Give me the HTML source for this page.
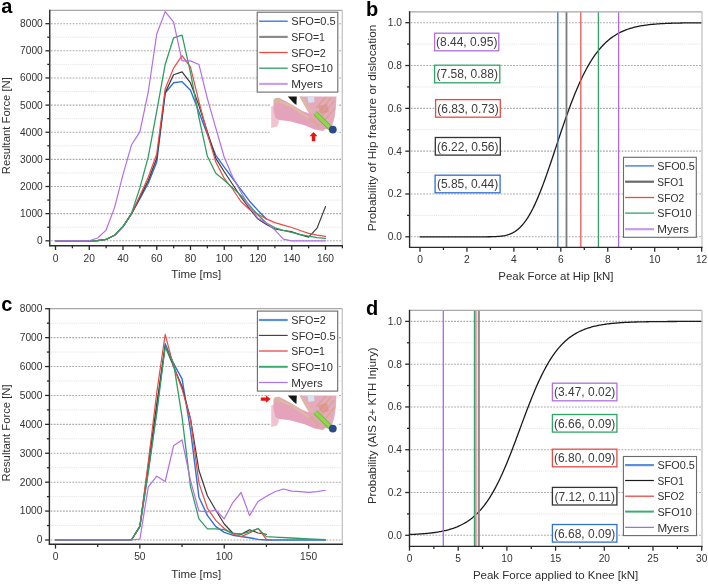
<!DOCTYPE html>
<html><head><meta charset="utf-8"><style>
html,body{margin:0;padding:0;background:#fff;width:708px;height:584px;overflow:hidden;}
svg{display:block;font-family:"Liberation Sans", sans-serif;will-change:transform;}
</style></head><body>
<svg width="708" height="584" viewBox="0 0 708 584" font-family='"Liberation Sans", sans-serif'>
<rect width="708" height="584" fill="#ffffff"/>
<line x1="50.95" y1="240.8" x2="341.3" y2="240.8" stroke="#a9a9a9" stroke-width="1.1" stroke-dasharray="1.8 1.3"/>
<line x1="50.95" y1="227.23" x2="341.3" y2="227.23" stroke="#e5e5e5" stroke-width="1.0" stroke-dasharray="1.2 0.9"/>
<line x1="50.95" y1="213.66" x2="341.3" y2="213.66" stroke="#a9a9a9" stroke-width="1.1" stroke-dasharray="1.8 1.3"/>
<line x1="50.95" y1="200.09" x2="341.3" y2="200.09" stroke="#e5e5e5" stroke-width="1.0" stroke-dasharray="1.2 0.9"/>
<line x1="50.95" y1="186.52" x2="341.3" y2="186.52" stroke="#a9a9a9" stroke-width="1.1" stroke-dasharray="1.8 1.3"/>
<line x1="50.95" y1="172.95" x2="341.3" y2="172.95" stroke="#e5e5e5" stroke-width="1.0" stroke-dasharray="1.2 0.9"/>
<line x1="50.95" y1="159.38" x2="341.3" y2="159.38" stroke="#a9a9a9" stroke-width="1.1" stroke-dasharray="1.8 1.3"/>
<line x1="50.95" y1="145.81" x2="341.3" y2="145.81" stroke="#e5e5e5" stroke-width="1.0" stroke-dasharray="1.2 0.9"/>
<line x1="50.95" y1="132.24" x2="341.3" y2="132.24" stroke="#a9a9a9" stroke-width="1.1" stroke-dasharray="1.8 1.3"/>
<line x1="50.95" y1="118.67" x2="341.3" y2="118.67" stroke="#e5e5e5" stroke-width="1.0" stroke-dasharray="1.2 0.9"/>
<line x1="50.95" y1="105.1" x2="341.3" y2="105.1" stroke="#a9a9a9" stroke-width="1.1" stroke-dasharray="1.8 1.3"/>
<line x1="50.95" y1="91.53" x2="341.3" y2="91.53" stroke="#e5e5e5" stroke-width="1.0" stroke-dasharray="1.2 0.9"/>
<line x1="50.95" y1="77.96" x2="341.3" y2="77.96" stroke="#a9a9a9" stroke-width="1.1" stroke-dasharray="1.8 1.3"/>
<line x1="50.95" y1="64.39" x2="341.3" y2="64.39" stroke="#e5e5e5" stroke-width="1.0" stroke-dasharray="1.2 0.9"/>
<line x1="50.95" y1="50.82" x2="341.3" y2="50.82" stroke="#a9a9a9" stroke-width="1.1" stroke-dasharray="1.8 1.3"/>
<line x1="50.95" y1="37.25" x2="341.3" y2="37.25" stroke="#e5e5e5" stroke-width="1.0" stroke-dasharray="1.2 0.9"/>
<line x1="50.95" y1="23.68" x2="341.3" y2="23.68" stroke="#a9a9a9" stroke-width="1.1" stroke-dasharray="1.8 1.3"/>
<polyline points="55.5,240.8 89.25,240.8 97.69,240.53 106.12,239.44 114.56,235.24 123,226.55 131.44,213.93 139.88,198.73 148.31,183.26 156.75,162.09 165.19,93.02 173.62,82.76 182.06,81.65 190.5,90.17 198.94,111.89 207.38,134.41 215.81,155.31 224.25,167.14 232.69,178.49 241.12,189.83 249.56,201.18 258,210.4 266.44,218.9" fill="none" stroke="#2f6fd6" stroke-width="1.35" stroke-linejoin="round" stroke-linecap="round" />
<polyline points="55.5,240.8 89.25,240.8 97.69,240.53 106.12,239.44 114.56,235.24 123,226.55 131.44,213.93 139.88,197.38 148.31,180.55 156.75,158.29 165.19,92.62 173.62,74.76 182.06,71.85 190.5,82.95 198.94,105.56 207.38,131.7 215.81,158.43 224.25,171.7 232.69,184.48 241.12,197.24 249.56,208.77 258,219.09 266.44,224.52 274.88,228.99 283.31,230.49 291.75,231.71 300.19,234.56 308.62,237.19 317.06,228.1 325.5,206.6" fill="none" stroke="#3a3a3a" stroke-width="1.2" stroke-linejoin="round" stroke-linecap="round" />
<polyline points="55.5,240.8 89.25,240.8 97.69,240.53 106.12,239.44 114.56,235.24 123,226.55 131.44,213.93 139.88,195.75 148.31,177.02 156.75,153.95 165.19,88.82 173.62,68.05 182.06,55.57 190.5,67.08 198.94,101.57 207.38,133.6 215.81,162.09 224.25,178.38 232.69,189.23 241.12,201.72 249.56,209.59 258,214.2 266.44,218.9 274.88,222.62 283.31,225.06 291.75,227.5 300.19,230.49 308.62,233.34 317.06,235.1 325.5,236.29" fill="none" stroke="#ea4a44" stroke-width="1.2" stroke-linejoin="round" stroke-linecap="round" />
<polyline points="55.5,240.8 89.25,240.8 97.69,240.53 106.12,239.44 114.56,235.24 123,226.55 131.44,213.66 139.88,187.88 148.31,156.67 156.75,111.07 165.19,64.47 173.62,37.77 182.06,35.16 190.5,72.53 198.94,117.58 207.38,156.31 215.81,173.33 224.25,180.28 232.69,187.88 241.12,195.75 249.56,205.52 258,215.02 266.44,223 274.88,227.77 283.31,230.49 291.75,232.39 300.19,234.56 308.62,236.19 317.06,237.54 325.5,238.41" fill="none" stroke="#2f9e62" stroke-width="1.3" stroke-linejoin="round" stroke-linecap="round" />
<polyline points="55.5,240.8 89.25,240.8 97.69,237.95 106.12,230.08 114.56,207.61 123,174.58 131.44,145.05 139.88,131.83 148.31,91.53 156.75,33.99 165.19,11.6 173.62,22.05 182.06,60.86 190.5,60.86 198.94,64.47 207.38,98.59 215.81,128.17 224.25,157.21 232.69,177.02 241.12,192.49 249.56,206.88 258,218.27 266.44,222.89 274.88,229.94 283.31,239.17 291.75,240.8 325.5,240.8" fill="none" stroke="#b46ee6" stroke-width="1.2" stroke-linejoin="round" stroke-linecap="round" />
<line x1="49.75" y1="10.3" x2="342.3" y2="10.3" stroke="#a8a8a8" stroke-width="1.3" />
<line x1="342.3" y1="10.3" x2="342.3" y2="245.7" stroke="#c4c4c4" stroke-width="1.3" />
<line x1="49.75" y1="9.7" x2="49.75" y2="246.3" stroke="#2a2a2a" stroke-width="1.4" />
<line x1="49.15" y1="245.7" x2="342.9" y2="245.7" stroke="#2a2a2a" stroke-width="1.4" />
<line x1="45.45" y1="240.8" x2="49.75" y2="240.8" stroke="#2a2a2a" stroke-width="1.3" />
<text x="42.75" y="244.2" font-size="10.2" text-anchor="end" fill="#333333" font-weight="normal" >0</text>
<line x1="47.25" y1="227.23" x2="49.75" y2="227.23" stroke="#2a2a2a" stroke-width="1.3" />
<line x1="45.45" y1="213.66" x2="49.75" y2="213.66" stroke="#2a2a2a" stroke-width="1.3" />
<text x="42.75" y="217.06" font-size="10.2" text-anchor="end" fill="#333333" font-weight="normal" >1000</text>
<line x1="47.25" y1="200.09" x2="49.75" y2="200.09" stroke="#2a2a2a" stroke-width="1.3" />
<line x1="45.45" y1="186.52" x2="49.75" y2="186.52" stroke="#2a2a2a" stroke-width="1.3" />
<text x="42.75" y="189.92" font-size="10.2" text-anchor="end" fill="#333333" font-weight="normal" >2000</text>
<line x1="47.25" y1="172.95" x2="49.75" y2="172.95" stroke="#2a2a2a" stroke-width="1.3" />
<line x1="45.45" y1="159.38" x2="49.75" y2="159.38" stroke="#2a2a2a" stroke-width="1.3" />
<text x="42.75" y="162.78" font-size="10.2" text-anchor="end" fill="#333333" font-weight="normal" >3000</text>
<line x1="47.25" y1="145.81" x2="49.75" y2="145.81" stroke="#2a2a2a" stroke-width="1.3" />
<line x1="45.45" y1="132.24" x2="49.75" y2="132.24" stroke="#2a2a2a" stroke-width="1.3" />
<text x="42.75" y="135.64" font-size="10.2" text-anchor="end" fill="#333333" font-weight="normal" >4000</text>
<line x1="47.25" y1="118.67" x2="49.75" y2="118.67" stroke="#2a2a2a" stroke-width="1.3" />
<line x1="45.45" y1="105.1" x2="49.75" y2="105.1" stroke="#2a2a2a" stroke-width="1.3" />
<text x="42.75" y="108.5" font-size="10.2" text-anchor="end" fill="#333333" font-weight="normal" >5000</text>
<line x1="47.25" y1="91.53" x2="49.75" y2="91.53" stroke="#2a2a2a" stroke-width="1.3" />
<line x1="45.45" y1="77.96" x2="49.75" y2="77.96" stroke="#2a2a2a" stroke-width="1.3" />
<text x="42.75" y="81.36" font-size="10.2" text-anchor="end" fill="#333333" font-weight="normal" >6000</text>
<line x1="47.25" y1="64.39" x2="49.75" y2="64.39" stroke="#2a2a2a" stroke-width="1.3" />
<line x1="45.45" y1="50.82" x2="49.75" y2="50.82" stroke="#2a2a2a" stroke-width="1.3" />
<text x="42.75" y="54.22" font-size="10.2" text-anchor="end" fill="#333333" font-weight="normal" >7000</text>
<line x1="47.25" y1="37.25" x2="49.75" y2="37.25" stroke="#2a2a2a" stroke-width="1.3" />
<line x1="45.45" y1="23.68" x2="49.75" y2="23.68" stroke="#2a2a2a" stroke-width="1.3" />
<text x="42.75" y="27.08" font-size="10.2" text-anchor="end" fill="#333333" font-weight="normal" >8000</text>
<line x1="55.5" y1="245.7" x2="55.5" y2="250" stroke="#2a2a2a" stroke-width="1.3" />
<text x="55.5" y="261.5" font-size="10.2" text-anchor="middle" fill="#333333" font-weight="normal" >0</text>
<line x1="89.25" y1="245.7" x2="89.25" y2="250" stroke="#2a2a2a" stroke-width="1.3" />
<text x="89.25" y="261.5" font-size="10.2" text-anchor="middle" fill="#333333" font-weight="normal" >20</text>
<line x1="123" y1="245.7" x2="123" y2="250" stroke="#2a2a2a" stroke-width="1.3" />
<text x="123" y="261.5" font-size="10.2" text-anchor="middle" fill="#333333" font-weight="normal" >40</text>
<line x1="156.75" y1="245.7" x2="156.75" y2="250" stroke="#2a2a2a" stroke-width="1.3" />
<text x="156.75" y="261.5" font-size="10.2" text-anchor="middle" fill="#333333" font-weight="normal" >60</text>
<line x1="190.5" y1="245.7" x2="190.5" y2="250" stroke="#2a2a2a" stroke-width="1.3" />
<text x="190.5" y="261.5" font-size="10.2" text-anchor="middle" fill="#333333" font-weight="normal" >80</text>
<line x1="224.25" y1="245.7" x2="224.25" y2="250" stroke="#2a2a2a" stroke-width="1.3" />
<text x="224.25" y="261.5" font-size="10.2" text-anchor="middle" fill="#333333" font-weight="normal" >100</text>
<line x1="258" y1="245.7" x2="258" y2="250" stroke="#2a2a2a" stroke-width="1.3" />
<text x="258" y="261.5" font-size="10.2" text-anchor="middle" fill="#333333" font-weight="normal" >120</text>
<line x1="291.75" y1="245.7" x2="291.75" y2="250" stroke="#2a2a2a" stroke-width="1.3" />
<text x="291.75" y="261.5" font-size="10.2" text-anchor="middle" fill="#333333" font-weight="normal" >140</text>
<line x1="325.5" y1="245.7" x2="325.5" y2="250" stroke="#2a2a2a" stroke-width="1.3" />
<text x="325.5" y="261.5" font-size="10.2" text-anchor="middle" fill="#333333" font-weight="normal" >160</text>
<line x1="72.38" y1="245.7" x2="72.38" y2="248.3" stroke="#2a2a2a" stroke-width="1.3" />
<line x1="106.12" y1="245.7" x2="106.12" y2="248.3" stroke="#2a2a2a" stroke-width="1.3" />
<line x1="139.88" y1="245.7" x2="139.88" y2="248.3" stroke="#2a2a2a" stroke-width="1.3" />
<line x1="173.62" y1="245.7" x2="173.62" y2="248.3" stroke="#2a2a2a" stroke-width="1.3" />
<line x1="207.38" y1="245.7" x2="207.38" y2="248.3" stroke="#2a2a2a" stroke-width="1.3" />
<line x1="241.12" y1="245.7" x2="241.12" y2="248.3" stroke="#2a2a2a" stroke-width="1.3" />
<line x1="274.88" y1="245.7" x2="274.88" y2="248.3" stroke="#2a2a2a" stroke-width="1.3" />
<line x1="308.62" y1="245.7" x2="308.62" y2="248.3" stroke="#2a2a2a" stroke-width="1.3" />
<line x1="342.38" y1="245.7" x2="342.38" y2="248.3" stroke="#2a2a2a" stroke-width="1.3" />
<rect x="257.2" y="12.2" width="80.6" height="79.9" fill="#ffffff" stroke="#6a6a6a" stroke-width="1.1"/>
<line x1="259.2" y1="21.2" x2="287.7" y2="21.2" stroke="#2f6fd6" stroke-width="1.3" />
<text x="291.3" y="25.4" font-size="11.7" text-anchor="start" fill="#303030" font-weight="normal" textLength="44.4" lengthAdjust="spacingAndGlyphs">SFO=0.5</text>
<line x1="259.2" y1="36.9" x2="287.7" y2="36.9" stroke="#8a8a8a" stroke-width="2.2" />
<text x="291.3" y="41.1" font-size="11.7" text-anchor="start" fill="#303030" font-weight="normal" textLength="33.6" lengthAdjust="spacingAndGlyphs">SFO=1</text>
<line x1="259.2" y1="52.5" x2="287.7" y2="52.5" stroke="#ea4a44" stroke-width="1.3" />
<text x="291.3" y="56.7" font-size="11.7" text-anchor="start" fill="#303030" font-weight="normal" textLength="34.5" lengthAdjust="spacingAndGlyphs">SFO=2</text>
<line x1="259.2" y1="68.2" x2="287.7" y2="68.2" stroke="#2f9e62" stroke-width="1.3" />
<text x="291.3" y="72.4" font-size="11.7" text-anchor="start" fill="#303030" font-weight="normal" textLength="41.5" lengthAdjust="spacingAndGlyphs">SFO=10</text>
<line x1="259.2" y1="83.9" x2="287.7" y2="83.9" stroke="#c9a0ea" stroke-width="2.2" />
<text x="291.3" y="88.1" font-size="11.7" text-anchor="start" fill="#303030" font-weight="normal" textLength="31.6" lengthAdjust="spacingAndGlyphs">Myers</text>
<g transform="translate(271,96)"><rect x="0" y="-0.8" width="66.5" height="38.6" fill="#ffffff"/><path d="M28.5,0.4 L65.5,0.4 L64.8,12 L63.5,22 L61,30 L56,33.5 L50,31 L44,24 L38,17.5 L33,9 Z" fill="#e4aabd"/><path d="M36.5,0.6 L43,0.6 L43.5,6 L37.5,7 Z" fill="#d2e4ef"/><path d="M45,12 L55,1 M48,16 L60,2 M51,20 L63,5 M54,24 L64,12" stroke="#d9a58a" stroke-width="1.2" fill="none"/><path d="M47,10 L56,8 L58,16 L50,18 Z" fill="#d98c78" opacity="0.55"/><path d="M29.8,0.6 L38.5,13.8 L40.5,15.5" fill="none" stroke="#dcbb9c" stroke-width="2"/><path d="M0.2,10.5 L7.5,7.5 L7.8,27 L6.2,30.5 L0.2,32 Z" fill="#efc4d0"/><path d="M2.5,5.5 Q4,1.2 8,1.8 L19,7.5 L31.5,15 L42,18.8 L50,25 L55,32.5 L52,35 L43.5,33.5 L33.5,29.2 L18.8,25.2 L8,24 L4.5,22 L2.5,14 Z" fill="#e5a3bb"/><path d="M4.5,4 L20,10 L38.5,22.5" fill="none" stroke="#dcbc9e" stroke-width="2"/><ellipse cx="6" cy="4.5" rx="3.4" ry="2.6" fill="#d8b89c"/><path d="M38,22 L44,26 L48,31" fill="none" stroke="#d6ab94" stroke-width="3" opacity="0.8"/><path d="M16.8,0.4 L25.8,0.4 L25.4,9 L22.7,6.9 Z" fill="#161616"/><path d="M44.2,17 L60,32.8" stroke="#6fb83a" stroke-width="5.2" stroke-linecap="butt"/><path d="M44.2,17 L60,32.8" stroke="#8fd64c" stroke-width="3.4" stroke-linecap="butt"/><circle cx="61.8" cy="33.6" r="3.9" fill="#2b4a8e"/></g>
<path d="M313.5,131.9 l4,4.3 h-2.3 v5 h-3.4 v-5 h-2.3 Z" fill="#ee1111"/>
<text x="1.2" y="12.6" font-size="20" text-anchor="start" fill="#000000" font-weight="bold" >a</text>
<text x="0" y="0" font-size="11.8" text-anchor="middle" fill="#2e2e2e" textLength="97" lengthAdjust="spacingAndGlyphs" transform="translate(10.4,125.7) rotate(-90)">Resultant Force [N]</text>
<text x="196.3" y="277.5" font-size="11.8" text-anchor="middle" fill="#2e2e2e" textLength="50" lengthAdjust="spacingAndGlyphs">Time [ms]</text>
<line x1="50.6" y1="540" x2="341.3" y2="540" stroke="#a9a9a9" stroke-width="1.1" stroke-dasharray="1.8 1.3"/>
<line x1="50.6" y1="525.54" x2="341.3" y2="525.54" stroke="#e5e5e5" stroke-width="1.0" stroke-dasharray="1.2 0.9"/>
<line x1="50.6" y1="511.09" x2="341.3" y2="511.09" stroke="#a9a9a9" stroke-width="1.1" stroke-dasharray="1.8 1.3"/>
<line x1="50.6" y1="496.63" x2="341.3" y2="496.63" stroke="#e5e5e5" stroke-width="1.0" stroke-dasharray="1.2 0.9"/>
<line x1="50.6" y1="482.18" x2="341.3" y2="482.18" stroke="#a9a9a9" stroke-width="1.1" stroke-dasharray="1.8 1.3"/>
<line x1="50.6" y1="467.73" x2="341.3" y2="467.73" stroke="#e5e5e5" stroke-width="1.0" stroke-dasharray="1.2 0.9"/>
<line x1="50.6" y1="453.27" x2="341.3" y2="453.27" stroke="#a9a9a9" stroke-width="1.1" stroke-dasharray="1.8 1.3"/>
<line x1="50.6" y1="438.81" x2="341.3" y2="438.81" stroke="#e5e5e5" stroke-width="1.0" stroke-dasharray="1.2 0.9"/>
<line x1="50.6" y1="424.36" x2="341.3" y2="424.36" stroke="#a9a9a9" stroke-width="1.1" stroke-dasharray="1.8 1.3"/>
<line x1="50.6" y1="409.9" x2="341.3" y2="409.9" stroke="#e5e5e5" stroke-width="1.0" stroke-dasharray="1.2 0.9"/>
<line x1="50.6" y1="395.45" x2="341.3" y2="395.45" stroke="#a9a9a9" stroke-width="1.1" stroke-dasharray="1.8 1.3"/>
<line x1="50.6" y1="381" x2="341.3" y2="381" stroke="#e5e5e5" stroke-width="1.0" stroke-dasharray="1.2 0.9"/>
<line x1="50.6" y1="366.54" x2="341.3" y2="366.54" stroke="#a9a9a9" stroke-width="1.1" stroke-dasharray="1.8 1.3"/>
<line x1="50.6" y1="352.08" x2="341.3" y2="352.08" stroke="#e5e5e5" stroke-width="1.0" stroke-dasharray="1.2 0.9"/>
<line x1="50.6" y1="337.63" x2="341.3" y2="337.63" stroke="#a9a9a9" stroke-width="1.1" stroke-dasharray="1.8 1.3"/>
<line x1="50.6" y1="323.17" x2="341.3" y2="323.17" stroke="#e5e5e5" stroke-width="1.0" stroke-dasharray="1.2 0.9"/>
<polyline points="55.5,540 131.44,540 139.88,526.41 148.31,470.04 156.75,409.9 165.19,343.79 173.62,363.65 182.06,378.91 190.5,430.14 198.94,497.21 207.38,515.4 215.81,526.7 224.25,532.31 232.69,535.2 241.12,536.53 249.56,537.69 258,539.42 266.44,540 325.5,540" fill="none" stroke="#2f6fd6" stroke-width="1.4" stroke-linejoin="round" stroke-linecap="round" />
<polyline points="55.5,540 131.44,540 139.88,526.41 148.31,464.83 156.75,404.12 165.19,346.3 173.62,366.54 182.06,386.78 190.5,418.58 198.94,470.5 207.38,495.71 215.81,510.22 224.25,524.01 232.69,533 241.12,534.39 249.56,529.71 258,533 266.44,534.22" fill="none" stroke="#3a3a3a" stroke-width="1.2" stroke-linejoin="round" stroke-linecap="round" />
<polyline points="55.5,540 131.44,540 139.88,526.41 148.31,461.94 156.75,392.56 165.19,334.39 173.62,366.54 182.06,389.21 190.5,419.3 198.94,483.11 207.38,508.29 215.81,520.34 224.25,528.49 232.69,534.02 241.12,536.62 249.56,533 258,528.49 266.44,539.42 271.5,540" fill="none" stroke="#ea4a44" stroke-width="1.2" stroke-linejoin="round" stroke-linecap="round" />
<polyline points="55.5,540 131.44,540 139.88,526.41 148.31,472.06 156.75,412.8 165.19,346.71 173.62,363.65 182.06,417.13 190.5,486.69 198.94,518.81 207.38,528.9 215.81,528.9 224.25,529.71 232.69,533.41 241.12,534.22 249.56,531.91 258,528.49 266.44,536.62 274.88,537.11 291.75,537.98 308.62,538.84 325.5,539.71" fill="none" stroke="#2f9e62" stroke-width="1.3" stroke-linejoin="round" stroke-linecap="round" />
<polyline points="55.5,540 131.44,540 139.88,539.13 148.31,486.81 156.75,476.2 165.19,481.49 173.62,445.7 182.06,439.91 190.5,480.73 198.94,511 207.38,511.87 215.81,509.99 224.25,518.81 232.69,502.79 241.12,492.5 249.56,515.6 258,501.49 266.44,496.29 274.88,491.78 283.31,488.97 291.75,491.14 300.19,491.58 308.62,492.44 317.06,491.58 325.5,490.27" fill="none" stroke="#b46ee6" stroke-width="1.2" stroke-linejoin="round" stroke-linecap="round" />
<line x1="49.4" y1="308.7" x2="342.3" y2="308.7" stroke="#a8a8a8" stroke-width="1.3" />
<line x1="342.3" y1="308.7" x2="342.3" y2="544.3" stroke="#c4c4c4" stroke-width="1.3" />
<line x1="49.4" y1="308.1" x2="49.4" y2="544.9" stroke="#2a2a2a" stroke-width="1.4" />
<line x1="48.8" y1="544.3" x2="342.9" y2="544.3" stroke="#2a2a2a" stroke-width="1.4" />
<line x1="45.1" y1="540" x2="49.4" y2="540" stroke="#2a2a2a" stroke-width="1.3" />
<text x="42.4" y="543.4" font-size="10.2" text-anchor="end" fill="#333333" font-weight="normal" >0</text>
<line x1="46.9" y1="525.54" x2="49.4" y2="525.54" stroke="#2a2a2a" stroke-width="1.3" />
<line x1="45.1" y1="511.09" x2="49.4" y2="511.09" stroke="#2a2a2a" stroke-width="1.3" />
<text x="42.4" y="514.49" font-size="10.2" text-anchor="end" fill="#333333" font-weight="normal" >1000</text>
<line x1="46.9" y1="496.63" x2="49.4" y2="496.63" stroke="#2a2a2a" stroke-width="1.3" />
<line x1="45.1" y1="482.18" x2="49.4" y2="482.18" stroke="#2a2a2a" stroke-width="1.3" />
<text x="42.4" y="485.58" font-size="10.2" text-anchor="end" fill="#333333" font-weight="normal" >2000</text>
<line x1="46.9" y1="467.73" x2="49.4" y2="467.73" stroke="#2a2a2a" stroke-width="1.3" />
<line x1="45.1" y1="453.27" x2="49.4" y2="453.27" stroke="#2a2a2a" stroke-width="1.3" />
<text x="42.4" y="456.67" font-size="10.2" text-anchor="end" fill="#333333" font-weight="normal" >3000</text>
<line x1="46.9" y1="438.81" x2="49.4" y2="438.81" stroke="#2a2a2a" stroke-width="1.3" />
<line x1="45.1" y1="424.36" x2="49.4" y2="424.36" stroke="#2a2a2a" stroke-width="1.3" />
<text x="42.4" y="427.76" font-size="10.2" text-anchor="end" fill="#333333" font-weight="normal" >4000</text>
<line x1="46.9" y1="409.9" x2="49.4" y2="409.9" stroke="#2a2a2a" stroke-width="1.3" />
<line x1="45.1" y1="395.45" x2="49.4" y2="395.45" stroke="#2a2a2a" stroke-width="1.3" />
<text x="42.4" y="398.85" font-size="10.2" text-anchor="end" fill="#333333" font-weight="normal" >5000</text>
<line x1="46.9" y1="381" x2="49.4" y2="381" stroke="#2a2a2a" stroke-width="1.3" />
<line x1="45.1" y1="366.54" x2="49.4" y2="366.54" stroke="#2a2a2a" stroke-width="1.3" />
<text x="42.4" y="369.94" font-size="10.2" text-anchor="end" fill="#333333" font-weight="normal" >6000</text>
<line x1="46.9" y1="352.08" x2="49.4" y2="352.08" stroke="#2a2a2a" stroke-width="1.3" />
<line x1="45.1" y1="337.63" x2="49.4" y2="337.63" stroke="#2a2a2a" stroke-width="1.3" />
<text x="42.4" y="341.03" font-size="10.2" text-anchor="end" fill="#333333" font-weight="normal" >7000</text>
<line x1="46.9" y1="323.17" x2="49.4" y2="323.17" stroke="#2a2a2a" stroke-width="1.3" />
<line x1="45.1" y1="308.72" x2="49.4" y2="308.72" stroke="#2a2a2a" stroke-width="1.3" />
<text x="42.4" y="312.12" font-size="10.2" text-anchor="end" fill="#333333" font-weight="normal" >8000</text>
<line x1="55.5" y1="544.3" x2="55.5" y2="548.6" stroke="#2a2a2a" stroke-width="1.3" />
<text x="55.5" y="560.1" font-size="10.2" text-anchor="middle" fill="#333333" font-weight="normal" >0</text>
<line x1="139.88" y1="544.3" x2="139.88" y2="548.6" stroke="#2a2a2a" stroke-width="1.3" />
<text x="139.88" y="560.1" font-size="10.2" text-anchor="middle" fill="#333333" font-weight="normal" >50</text>
<line x1="224.25" y1="544.3" x2="224.25" y2="548.6" stroke="#2a2a2a" stroke-width="1.3" />
<text x="224.25" y="560.1" font-size="10.2" text-anchor="middle" fill="#333333" font-weight="normal" >100</text>
<line x1="308.62" y1="544.3" x2="308.62" y2="548.6" stroke="#2a2a2a" stroke-width="1.3" />
<text x="308.62" y="560.1" font-size="10.2" text-anchor="middle" fill="#333333" font-weight="normal" >150</text>
<line x1="97.69" y1="544.3" x2="97.69" y2="546.9" stroke="#2a2a2a" stroke-width="1.3" />
<line x1="182.06" y1="544.3" x2="182.06" y2="546.9" stroke="#2a2a2a" stroke-width="1.3" />
<line x1="266.44" y1="544.3" x2="266.44" y2="546.9" stroke="#2a2a2a" stroke-width="1.3" />
<rect x="257.4" y="311.1" width="80.3" height="80" fill="#ffffff" stroke="#6a6a6a" stroke-width="1.1"/>
<line x1="258.9" y1="320" x2="287.7" y2="320" stroke="#5b8fe0" stroke-width="2.2" />
<text x="291.3" y="324.2" font-size="11.7" text-anchor="start" fill="#303030" font-weight="normal" textLength="34.5" lengthAdjust="spacingAndGlyphs">SFO=2</text>
<line x1="258.9" y1="335.4" x2="287.7" y2="335.4" stroke="#3a3a3a" stroke-width="1.1" />
<text x="291.3" y="339.6" font-size="11.7" text-anchor="start" fill="#303030" font-weight="normal" textLength="44.4" lengthAdjust="spacingAndGlyphs">SFO=0.5</text>
<line x1="258.9" y1="351" x2="287.7" y2="351" stroke="#ea4a44" stroke-width="1.3" />
<text x="291.3" y="355.2" font-size="11.7" text-anchor="start" fill="#303030" font-weight="normal" textLength="33.6" lengthAdjust="spacingAndGlyphs">SFO=1</text>
<line x1="258.9" y1="366.8" x2="287.7" y2="366.8" stroke="#3aad6e" stroke-width="2.0" />
<text x="291.3" y="371" font-size="11.7" text-anchor="start" fill="#303030" font-weight="normal" textLength="41.5" lengthAdjust="spacingAndGlyphs">SFO=10</text>
<line x1="258.9" y1="382.5" x2="287.7" y2="382.5" stroke="#a878e6" stroke-width="1.3" />
<text x="291.3" y="386.7" font-size="11.7" text-anchor="start" fill="#303030" font-weight="normal" textLength="31.6" lengthAdjust="spacingAndGlyphs">Myers</text>
<g transform="translate(271,395)"><rect x="0" y="-0.8" width="66.5" height="38.6" fill="#ffffff"/><path d="M28.5,0.4 L65.5,0.4 L64.8,12 L63.5,22 L61,30 L56,33.5 L50,31 L44,24 L38,17.5 L33,9 Z" fill="#e4aabd"/><path d="M36.5,0.6 L43,0.6 L43.5,6 L37.5,7 Z" fill="#d2e4ef"/><path d="M45,12 L55,1 M48,16 L60,2 M51,20 L63,5 M54,24 L64,12" stroke="#d9a58a" stroke-width="1.2" fill="none"/><path d="M47,10 L56,8 L58,16 L50,18 Z" fill="#d98c78" opacity="0.55"/><path d="M29.8,0.6 L38.5,13.8 L40.5,15.5" fill="none" stroke="#dcbb9c" stroke-width="2"/><path d="M0.2,10.5 L7.5,7.5 L7.8,27 L6.2,30.5 L0.2,32 Z" fill="#efc4d0"/><path d="M2.5,5.5 Q4,1.2 8,1.8 L19,7.5 L31.5,15 L42,18.8 L50,25 L55,32.5 L52,35 L43.5,33.5 L33.5,29.2 L18.8,25.2 L8,24 L4.5,22 L2.5,14 Z" fill="#e5a3bb"/><path d="M4.5,4 L20,10 L38.5,22.5" fill="none" stroke="#dcbc9e" stroke-width="2"/><ellipse cx="6" cy="4.5" rx="3.4" ry="2.6" fill="#d8b89c"/><path d="M38,22 L44,26 L48,31" fill="none" stroke="#d6ab94" stroke-width="3" opacity="0.8"/><path d="M16.8,0.4 L25.8,0.4 L25.4,9 L22.7,6.9 Z" fill="#161616"/><path d="M44.2,17 L60,32.8" stroke="#6fb83a" stroke-width="5.2" stroke-linecap="butt"/><path d="M44.2,17 L60,32.8" stroke="#8fd64c" stroke-width="3.4" stroke-linecap="butt"/><circle cx="61.8" cy="33.6" r="3.9" fill="#2b4a8e"/></g>
<path d="M270.6,399.1 l-4.5,-3.6 v2 h-5.3 v3.2 h5.3 v2 Z" fill="#ee1111"/>
<text x="1.2" y="311.4" font-size="20" text-anchor="start" fill="#000000" font-weight="bold" >c</text>
<text x="0" y="0" font-size="11.8" text-anchor="middle" fill="#2e2e2e" textLength="97" lengthAdjust="spacingAndGlyphs" transform="translate(10.4,432.9) rotate(-90)">Resultant Force [N]</text>
<text x="196.3" y="577.5" font-size="11.8" text-anchor="middle" fill="#2e2e2e" textLength="50" lengthAdjust="spacingAndGlyphs">Time [ms]</text>
<line x1="410.8" y1="236.8" x2="701" y2="236.8" stroke="#a9a9a9" stroke-width="1.1" stroke-dasharray="1.8 1.3"/>
<line x1="410.8" y1="215.39" x2="701" y2="215.39" stroke="#e5e5e5" stroke-width="1.0" stroke-dasharray="1.2 0.9"/>
<line x1="410.8" y1="193.98" x2="701" y2="193.98" stroke="#a9a9a9" stroke-width="1.1" stroke-dasharray="1.8 1.3"/>
<line x1="410.8" y1="172.57" x2="701" y2="172.57" stroke="#e5e5e5" stroke-width="1.0" stroke-dasharray="1.2 0.9"/>
<line x1="410.8" y1="151.16" x2="701" y2="151.16" stroke="#a9a9a9" stroke-width="1.1" stroke-dasharray="1.8 1.3"/>
<line x1="410.8" y1="129.75" x2="701" y2="129.75" stroke="#e5e5e5" stroke-width="1.0" stroke-dasharray="1.2 0.9"/>
<line x1="410.8" y1="108.34" x2="701" y2="108.34" stroke="#a9a9a9" stroke-width="1.1" stroke-dasharray="1.8 1.3"/>
<line x1="410.8" y1="86.93" x2="701" y2="86.93" stroke="#e5e5e5" stroke-width="1.0" stroke-dasharray="1.2 0.9"/>
<line x1="410.8" y1="65.52" x2="701" y2="65.52" stroke="#a9a9a9" stroke-width="1.1" stroke-dasharray="1.8 1.3"/>
<line x1="410.8" y1="44.11" x2="701" y2="44.11" stroke="#e5e5e5" stroke-width="1.0" stroke-dasharray="1.2 0.9"/>
<line x1="410.8" y1="22.7" x2="701" y2="22.7" stroke="#a9a9a9" stroke-width="1.1" stroke-dasharray="1.8 1.3"/>
<polyline points="420,236.8 421.17,236.8 422.35,236.8 423.52,236.8 424.69,236.8 425.87,236.8 427.04,236.8 428.21,236.8 429.39,236.8 430.56,236.8 431.74,236.8 432.91,236.8 434.08,236.8 435.26,236.8 436.43,236.8 437.6,236.8 438.78,236.8 439.95,236.8 441.12,236.8 442.3,236.8 443.47,236.8 444.64,236.8 445.82,236.8 446.99,236.8 448.16,236.8 449.34,236.8 450.51,236.8 451.68,236.8 452.86,236.8 454.03,236.8 455.21,236.8 456.38,236.8 457.55,236.8 458.73,236.8 459.9,236.8 461.07,236.8 462.25,236.8 463.42,236.8 464.59,236.8 465.77,236.8 466.94,236.8 468.11,236.8 469.29,236.8 470.46,236.8 471.63,236.8 472.81,236.8 473.98,236.8 475.15,236.8 476.33,236.8 477.5,236.8 478.67,236.8 479.85,236.8 481.02,236.8 482.2,236.79 483.37,236.79 484.54,236.79 485.72,236.78 486.89,236.78 488.06,236.77 489.24,236.75 490.41,236.74 491.58,236.71 492.76,236.68 493.93,236.65 495.1,236.6 496.28,236.55 497.45,236.47 498.62,236.39 499.8,236.28 500.97,236.15 502.14,236 503.32,235.82 504.49,235.6 505.67,235.35 506.84,235.06 508.01,234.72 509.19,234.33 510.36,233.88 511.53,233.37 512.71,232.8 513.88,232.16 515.05,231.44 516.23,230.64 517.4,229.75 518.57,228.78 519.75,227.71 520.92,226.55 522.09,225.28 523.27,223.91 524.44,222.43 525.61,220.84 526.79,219.14 527.96,217.33 529.14,215.41 530.31,213.37 531.48,211.23 532.66,208.97 533.83,206.6 535,204.13 536.18,201.55 537.35,198.87 538.52,196.1 539.7,193.23 540.87,190.28 542.04,187.24 543.22,184.13 544.39,180.95 545.56,177.7 546.74,174.39 547.91,171.03 549.08,167.63 550.26,164.18 551.43,160.71 552.61,157.21 553.78,153.69 554.95,150.15 556.13,146.62 557.3,143.08 558.47,139.55 559.65,136.03 560.82,132.53 561.99,129.06 563.17,125.61 564.34,122.2 565.51,118.83 566.69,115.51 567.86,112.23 569.03,109 570.21,105.83 571.38,102.72 572.55,99.67 573.73,96.68 574.9,93.76 576.08,90.91 577.25,88.13 578.42,85.42 579.6,82.78 580.77,80.22 581.94,77.73 583.12,75.31 584.29,72.97 585.46,70.71 586.64,68.52 587.81,66.4 588.98,64.36 590.16,62.39 591.33,60.49 592.5,58.66 593.68,56.9 594.85,55.21 596.02,53.59 597.2,52.03 598.37,50.54 599.55,49.11 600.72,47.74 601.89,46.43 603.07,45.18 604.24,43.99 605.41,42.84 606.59,41.76 607.76,40.72 608.93,39.73 610.11,38.79 611.28,37.89 612.45,37.04 613.63,36.23 614.8,35.46 615.97,34.73 617.15,34.04 618.32,33.38 619.49,32.76 620.67,32.17 621.84,31.61 623.02,31.08 624.19,30.58 625.36,30.11 626.54,29.66 627.71,29.24 628.88,28.84 630.06,28.47 631.23,28.11 632.4,27.78 633.58,27.47 634.75,27.17 635.92,26.89 637.1,26.63 638.27,26.38 639.44,26.15 640.62,25.93 641.79,25.72 642.96,25.53 644.14,25.35 645.31,25.18 646.49,25.02 647.66,24.86 648.83,24.72 650.01,24.59 651.18,24.47 652.35,24.35 653.53,24.24 654.7,24.14 655.87,24.04 657.05,23.96 658.22,23.87 659.39,23.79 660.57,23.72 661.74,23.65 662.91,23.59 664.09,23.53 665.26,23.47 666.44,23.42 667.61,23.37 668.78,23.32 669.96,23.28 671.13,23.24 672.3,23.2 673.48,23.17 674.65,23.14 675.82,23.11 677,23.08 678.17,23.05 679.34,23.03 680.52,23.01 681.69,22.98 682.86,22.96 684.04,22.95 685.21,22.93 686.38,22.91 687.56,22.9 688.73,22.88 689.91,22.87 691.08,22.86 692.25,22.85 693.43,22.84 694.6,22.83 695.77,22.82 696.95,22.81 698.12,22.8 699.29,22.79 700.47,22.79 701.64,22.78" fill="none" stroke="#1a1a1a" stroke-width="1.3" stroke-linejoin="round" stroke-linecap="round" />
<line x1="557.8" y1="11.8" x2="557.8" y2="247.4" stroke="#2f6fd6" stroke-width="1.3" />
<line x1="566.48" y1="11.8" x2="566.48" y2="247.4" stroke="#7a7a7a" stroke-width="1.8" />
<line x1="580.8" y1="11.8" x2="580.8" y2="247.4" stroke="#ee5a55" stroke-width="1.3" />
<line x1="598.4" y1="11.8" x2="598.4" y2="247.4" stroke="#36a46a" stroke-width="1.3" />
<line x1="618.59" y1="11.8" x2="618.59" y2="247.4" stroke="#a86ae0" stroke-width="1.3" />
<line x1="409.6" y1="11.8" x2="702" y2="11.8" stroke="#a8a8a8" stroke-width="1.3" />
<line x1="702" y1="11.8" x2="702" y2="247.4" stroke="#c4c4c4" stroke-width="1.3" />
<line x1="409.6" y1="11.2" x2="409.6" y2="248" stroke="#2a2a2a" stroke-width="1.4" />
<line x1="409" y1="247.4" x2="702.6" y2="247.4" stroke="#2a2a2a" stroke-width="1.4" />
<line x1="405.3" y1="236.8" x2="409.6" y2="236.8" stroke="#2a2a2a" stroke-width="1.3" />
<text x="402" y="240.2" font-size="10.2" text-anchor="end" fill="#333333" font-weight="normal" >0.0</text>
<line x1="407.1" y1="215.39" x2="409.6" y2="215.39" stroke="#2a2a2a" stroke-width="1.3" />
<line x1="405.3" y1="193.98" x2="409.6" y2="193.98" stroke="#2a2a2a" stroke-width="1.3" />
<text x="402" y="197.38" font-size="10.2" text-anchor="end" fill="#333333" font-weight="normal" >0.2</text>
<line x1="407.1" y1="172.57" x2="409.6" y2="172.57" stroke="#2a2a2a" stroke-width="1.3" />
<line x1="405.3" y1="151.16" x2="409.6" y2="151.16" stroke="#2a2a2a" stroke-width="1.3" />
<text x="402" y="154.56" font-size="10.2" text-anchor="end" fill="#333333" font-weight="normal" >0.4</text>
<line x1="407.1" y1="129.75" x2="409.6" y2="129.75" stroke="#2a2a2a" stroke-width="1.3" />
<line x1="405.3" y1="108.34" x2="409.6" y2="108.34" stroke="#2a2a2a" stroke-width="1.3" />
<text x="402" y="111.74" font-size="10.2" text-anchor="end" fill="#333333" font-weight="normal" >0.6</text>
<line x1="407.1" y1="86.93" x2="409.6" y2="86.93" stroke="#2a2a2a" stroke-width="1.3" />
<line x1="405.3" y1="65.52" x2="409.6" y2="65.52" stroke="#2a2a2a" stroke-width="1.3" />
<text x="402" y="68.92" font-size="10.2" text-anchor="end" fill="#333333" font-weight="normal" >0.8</text>
<line x1="407.1" y1="44.11" x2="409.6" y2="44.11" stroke="#2a2a2a" stroke-width="1.3" />
<line x1="405.3" y1="22.7" x2="409.6" y2="22.7" stroke="#2a2a2a" stroke-width="1.3" />
<text x="402" y="26.1" font-size="10.2" text-anchor="end" fill="#333333" font-weight="normal" >1.0</text>
<line x1="420" y1="247.4" x2="420" y2="251.7" stroke="#2a2a2a" stroke-width="1.3" />
<text x="420" y="263" font-size="10.2" text-anchor="middle" fill="#333333" font-weight="normal" >0</text>
<line x1="443.47" y1="247.4" x2="443.47" y2="250" stroke="#2a2a2a" stroke-width="1.3" />
<line x1="466.94" y1="247.4" x2="466.94" y2="251.7" stroke="#2a2a2a" stroke-width="1.3" />
<text x="466.94" y="263" font-size="10.2" text-anchor="middle" fill="#333333" font-weight="normal" >2</text>
<line x1="490.41" y1="247.4" x2="490.41" y2="250" stroke="#2a2a2a" stroke-width="1.3" />
<line x1="513.88" y1="247.4" x2="513.88" y2="251.7" stroke="#2a2a2a" stroke-width="1.3" />
<text x="513.88" y="263" font-size="10.2" text-anchor="middle" fill="#333333" font-weight="normal" >4</text>
<line x1="537.35" y1="247.4" x2="537.35" y2="250" stroke="#2a2a2a" stroke-width="1.3" />
<line x1="560.82" y1="247.4" x2="560.82" y2="251.7" stroke="#2a2a2a" stroke-width="1.3" />
<text x="560.82" y="263" font-size="10.2" text-anchor="middle" fill="#333333" font-weight="normal" >6</text>
<line x1="584.29" y1="247.4" x2="584.29" y2="250" stroke="#2a2a2a" stroke-width="1.3" />
<line x1="607.76" y1="247.4" x2="607.76" y2="251.7" stroke="#2a2a2a" stroke-width="1.3" />
<text x="607.76" y="263" font-size="10.2" text-anchor="middle" fill="#333333" font-weight="normal" >8</text>
<line x1="631.23" y1="247.4" x2="631.23" y2="250" stroke="#2a2a2a" stroke-width="1.3" />
<line x1="654.7" y1="247.4" x2="654.7" y2="251.7" stroke="#2a2a2a" stroke-width="1.3" />
<text x="654.7" y="263" font-size="10.2" text-anchor="middle" fill="#333333" font-weight="normal" >10</text>
<line x1="678.17" y1="247.4" x2="678.17" y2="250" stroke="#2a2a2a" stroke-width="1.3" />
<line x1="701.64" y1="247.4" x2="701.64" y2="251.7" stroke="#2a2a2a" stroke-width="1.3" />
<text x="701.64" y="263" font-size="10.2" text-anchor="middle" fill="#333333" font-weight="normal" >12</text>
<rect x="434.6" y="33.2" width="64.2" height="17.6" fill="#ffffff" stroke="#b070e0" stroke-width="1.3"/>
<text x="466.7" y="46.3" font-size="12" text-anchor="middle" fill="#3c3c3c" font-weight="normal" >(8.44, 0.95)</text>
<rect x="434.6" y="65.2" width="65.2" height="17.6" fill="#ffffff" stroke="#2fa565" stroke-width="1.3"/>
<text x="467.2" y="78.3" font-size="12" text-anchor="middle" fill="#3c3c3c" font-weight="normal" >(7.58, 0.88)</text>
<rect x="435.6" y="99.6" width="64.7" height="17.6" fill="#ffffff" stroke="#ea4a44" stroke-width="1.3"/>
<text x="467.95" y="112.7" font-size="12" text-anchor="middle" fill="#3c3c3c" font-weight="normal" >(6.83, 0.73)</text>
<rect x="435.3" y="137.5" width="65" height="17.6" fill="#ffffff" stroke="#333333" stroke-width="1.3"/>
<text x="467.8" y="150.6" font-size="12" text-anchor="middle" fill="#3c3c3c" font-weight="normal" >(6.22, 0.56)</text>
<rect x="435.1" y="175.2" width="65" height="17.6" fill="#ffffff" stroke="#2f6fd6" stroke-width="1.3"/>
<text x="467.6" y="188.3" font-size="12" text-anchor="middle" fill="#3c3c3c" font-weight="normal" >(5.85, 0.44)</text>
<rect x="623.5" y="157.3" width="72.8" height="80" fill="#ffffff" stroke="#6a6a6a" stroke-width="1.1"/>
<line x1="625.1" y1="165.9" x2="654" y2="165.9" stroke="#3a70d8" stroke-width="1.3" />
<text x="657.3" y="170.1" font-size="11.7" text-anchor="start" fill="#303030" font-weight="normal" textLength="37.4" lengthAdjust="spacingAndGlyphs">SFO0.5</text>
<line x1="625.1" y1="181.7" x2="654" y2="181.7" stroke="#6a6a6a" stroke-width="2.2" />
<text x="657.3" y="185.9" font-size="11.7" text-anchor="start" fill="#303030" font-weight="normal" textLength="26.5" lengthAdjust="spacingAndGlyphs">SFO1</text>
<line x1="625.1" y1="197.5" x2="654" y2="197.5" stroke="#ea4a44" stroke-width="1.3" />
<text x="657.3" y="201.7" font-size="11.7" text-anchor="start" fill="#303030" font-weight="normal" textLength="26.8" lengthAdjust="spacingAndGlyphs">SFO2</text>
<line x1="625.1" y1="213.1" x2="654" y2="213.1" stroke="#36a46a" stroke-width="1.3" />
<text x="657.3" y="217.3" font-size="11.7" text-anchor="start" fill="#303030" font-weight="normal" textLength="34.3" lengthAdjust="spacingAndGlyphs">SFO10</text>
<line x1="625.1" y1="229.2" x2="654" y2="229.2" stroke="#c89ae8" stroke-width="2.2" />
<text x="657.3" y="233.4" font-size="11.7" text-anchor="start" fill="#303030" font-weight="normal" textLength="31.6" lengthAdjust="spacingAndGlyphs">Myers</text>
<text x="366" y="16.1" font-size="20" text-anchor="start" fill="#000000" font-weight="bold" >b</text>
<text x="0" y="0" font-size="11.8" text-anchor="middle" fill="#2e2e2e" textLength="206.5" lengthAdjust="spacingAndGlyphs" transform="translate(376.2,127.9) rotate(-90)">Probability of Hip fracture or dislocation</text>
<text x="555.9" y="279.5" font-size="11.8" text-anchor="middle" fill="#2e2e2e" textLength="115.3" lengthAdjust="spacingAndGlyphs">Peak Force at Hip [kN]</text>
<line x1="410.7" y1="535.3" x2="701" y2="535.3" stroke="#a9a9a9" stroke-width="1.1" stroke-dasharray="1.8 1.3"/>
<line x1="410.7" y1="513.91" x2="701" y2="513.91" stroke="#e5e5e5" stroke-width="1.0" stroke-dasharray="1.2 0.9"/>
<line x1="410.7" y1="492.52" x2="701" y2="492.52" stroke="#a9a9a9" stroke-width="1.1" stroke-dasharray="1.8 1.3"/>
<line x1="410.7" y1="471.13" x2="701" y2="471.13" stroke="#e5e5e5" stroke-width="1.0" stroke-dasharray="1.2 0.9"/>
<line x1="410.7" y1="449.74" x2="701" y2="449.74" stroke="#a9a9a9" stroke-width="1.1" stroke-dasharray="1.8 1.3"/>
<line x1="410.7" y1="428.35" x2="701" y2="428.35" stroke="#e5e5e5" stroke-width="1.0" stroke-dasharray="1.2 0.9"/>
<line x1="410.7" y1="406.96" x2="701" y2="406.96" stroke="#a9a9a9" stroke-width="1.1" stroke-dasharray="1.8 1.3"/>
<line x1="410.7" y1="385.57" x2="701" y2="385.57" stroke="#e5e5e5" stroke-width="1.0" stroke-dasharray="1.2 0.9"/>
<line x1="410.7" y1="364.18" x2="701" y2="364.18" stroke="#a9a9a9" stroke-width="1.1" stroke-dasharray="1.8 1.3"/>
<line x1="410.7" y1="342.79" x2="701" y2="342.79" stroke="#e5e5e5" stroke-width="1.0" stroke-dasharray="1.2 0.9"/>
<line x1="410.7" y1="321.4" x2="701" y2="321.4" stroke="#a9a9a9" stroke-width="1.1" stroke-dasharray="1.8 1.3"/>
<polyline points="409.5,534.51 410.47,534.47 411.45,534.43 412.42,534.39 413.4,534.34 414.37,534.29 415.34,534.24 416.32,534.19 417.29,534.13 418.27,534.07 419.24,534.01 420.21,533.95 421.19,533.88 422.16,533.81 423.14,533.73 424.11,533.66 425.08,533.57 426.06,533.49 427.03,533.4 428.01,533.3 428.98,533.2 429.95,533.1 430.93,532.99 431.9,532.87 432.88,532.75 433.85,532.62 434.82,532.49 435.8,532.35 436.77,532.2 437.75,532.05 438.72,531.88 439.69,531.71 440.67,531.54 441.64,531.35 442.62,531.15 443.59,530.95 444.56,530.73 445.54,530.51 446.51,530.27 447.49,530.02 448.46,529.76 449.43,529.49 450.41,529.21 451.38,528.91 452.36,528.59 453.33,528.27 454.3,527.92 455.28,527.56 456.25,527.19 457.23,526.8 458.2,526.38 459.17,525.95 460.15,525.5 461.12,525.03 462.1,524.54 463.07,524.02 464.04,523.48 465.02,522.92 465.99,522.33 466.97,521.72 467.94,521.08 468.91,520.41 469.89,519.71 470.86,518.99 471.84,518.23 472.81,517.44 473.78,516.61 474.76,515.75 475.73,514.86 476.71,513.93 477.68,512.96 478.65,511.96 479.63,510.91 480.6,509.83 481.58,508.7 482.55,507.53 483.52,506.32 484.5,505.06 485.47,503.76 486.45,502.41 487.42,501.01 488.39,499.57 489.37,498.08 490.34,496.54 491.32,494.95 492.29,493.31 493.26,491.62 494.24,489.88 495.21,488.09 496.19,486.25 497.16,484.37 498.13,482.43 499.11,480.44 500.08,478.41 501.06,476.32 502.03,474.19 503,472.02 503.98,469.8 504.95,467.54 505.93,465.24 506.9,462.9 507.87,460.52 508.85,458.1 509.82,455.65 510.8,453.17 511.77,450.66 512.74,448.13 513.72,445.57 514.69,443 515.67,440.4 516.64,437.79 517.61,435.17 518.59,432.54 519.56,429.91 520.54,427.27 521.51,424.63 522.48,422 523.46,419.38 524.43,416.77 525.41,414.17 526.38,411.59 527.35,409.03 528.33,406.49 529.3,403.98 530.28,401.49 531.25,399.04 532.22,396.62 533.2,394.23 534.17,391.88 535.15,389.57 536.12,387.3 537.09,385.08 538.07,382.89 539.04,380.76 540.02,378.67 540.99,376.62 541.96,374.63 542.94,372.68 543.91,370.78 544.89,368.94 545.86,367.14 546.83,365.39 547.81,363.69 548.78,362.04 549.76,360.45 550.73,358.9 551.7,357.4 552.68,355.95 553.65,354.54 554.63,353.18 555.6,351.87 556.57,350.61 557.55,349.39 558.52,348.21 559.5,347.07 560.47,345.98 561.44,344.93 562.42,343.92 563.39,342.94 564.37,342 565.34,341.1 566.31,340.24 567.29,339.41 568.26,338.61 569.24,337.85 570.21,337.12 571.18,336.41 572.16,335.74 573.13,335.09 574.11,334.48 575.08,333.88 576.05,333.32 577.03,332.77 578,332.25 578.98,331.76 579.95,331.28 580.92,330.83 581.9,330.39 582.87,329.98 583.85,329.58 584.82,329.2 585.79,328.84 586.77,328.49 587.74,328.16 588.72,327.85 589.69,327.55 590.66,327.26 591.64,326.98 592.61,326.72 593.59,326.47 594.56,326.23 595.53,326.01 596.51,325.79 597.48,325.58 598.46,325.38 599.43,325.2 600.4,325.02 601.38,324.85 602.35,324.68 603.33,324.53 604.3,324.38 605.27,324.24 606.25,324.1 607.22,323.97 608.2,323.85 609.17,323.74 610.14,323.62 611.12,323.52 612.09,323.42 613.07,323.32 614.04,323.23 615.01,323.14 615.99,323.06 616.96,322.98 617.94,322.9 618.91,322.83 619.88,322.76 620.86,322.7 621.83,322.64 622.81,322.58 623.78,322.52 624.75,322.47 625.73,322.42 626.7,322.37 627.68,322.32 628.65,322.28 629.62,322.24 630.6,322.2 631.57,322.16 632.55,322.12 633.52,322.09 634.49,322.05 635.47,322.02 636.44,321.99 637.42,321.96 638.39,321.94 639.36,321.91 640.34,321.89 641.31,321.86 642.29,321.84 643.26,321.82 644.23,321.8 645.21,321.78 646.18,321.76 647.16,321.74 648.13,321.73 649.1,321.71 650.08,321.7 651.05,321.68 652.03,321.67 653,321.66 653.97,321.64 654.95,321.63 655.92,321.62 656.9,321.61 657.87,321.6 658.84,321.59 659.82,321.58 660.79,321.57 661.77,321.56 662.74,321.56 663.71,321.55 664.69,321.54 665.66,321.54 666.64,321.53 667.61,321.52 668.58,321.52 669.56,321.51 670.53,321.51 671.51,321.5 672.48,321.5 673.45,321.49 674.43,321.49 675.4,321.48 676.38,321.48 677.35,321.47 678.32,321.47 679.3,321.47 680.27,321.46 681.25,321.46 682.22,321.46 683.19,321.46 684.17,321.45 685.14,321.45 686.12,321.45 687.09,321.45 688.06,321.44 689.04,321.44 690.01,321.44 690.99,321.44 691.96,321.44 692.93,321.43 693.91,321.43 694.88,321.43 695.86,321.43 696.83,321.43 697.8,321.43 698.78,321.43 699.75,321.42 700.73,321.42 701.7,321.42" fill="none" stroke="#1a1a1a" stroke-width="1.3" stroke-linejoin="round" stroke-linecap="round" />
<line x1="443.3" y1="310.4" x2="443.3" y2="546.4" stroke="#a86ae0" stroke-width="1.3" />
<line x1="478.85" y1="310.4" x2="478.85" y2="546.4" stroke="#8a8a8a" stroke-width="2.0" />
<line x1="475.73" y1="310.4" x2="475.73" y2="546.4" stroke="#f28c8c" stroke-width="2.0" />
<line x1="474.56" y1="310.4" x2="474.56" y2="546.4" stroke="#5b8fe0" stroke-width="1.0" />
<line x1="474.37" y1="310.4" x2="474.37" y2="546.4" stroke="#36a46a" stroke-width="1.1" />
<line x1="409.5" y1="310.4" x2="702" y2="310.4" stroke="#a8a8a8" stroke-width="1.3" />
<line x1="702" y1="310.4" x2="702" y2="546.4" stroke="#c4c4c4" stroke-width="1.3" />
<line x1="409.5" y1="309.8" x2="409.5" y2="547" stroke="#2a2a2a" stroke-width="1.4" />
<line x1="408.9" y1="546.4" x2="702.6" y2="546.4" stroke="#2a2a2a" stroke-width="1.4" />
<line x1="405.2" y1="535.3" x2="409.5" y2="535.3" stroke="#2a2a2a" stroke-width="1.3" />
<text x="401.9" y="538.7" font-size="10.2" text-anchor="end" fill="#333333" font-weight="normal" >0.0</text>
<line x1="407" y1="513.91" x2="409.5" y2="513.91" stroke="#2a2a2a" stroke-width="1.3" />
<line x1="405.2" y1="492.52" x2="409.5" y2="492.52" stroke="#2a2a2a" stroke-width="1.3" />
<text x="401.9" y="495.92" font-size="10.2" text-anchor="end" fill="#333333" font-weight="normal" >0.2</text>
<line x1="407" y1="471.13" x2="409.5" y2="471.13" stroke="#2a2a2a" stroke-width="1.3" />
<line x1="405.2" y1="449.74" x2="409.5" y2="449.74" stroke="#2a2a2a" stroke-width="1.3" />
<text x="401.9" y="453.14" font-size="10.2" text-anchor="end" fill="#333333" font-weight="normal" >0.4</text>
<line x1="407" y1="428.35" x2="409.5" y2="428.35" stroke="#2a2a2a" stroke-width="1.3" />
<line x1="405.2" y1="406.96" x2="409.5" y2="406.96" stroke="#2a2a2a" stroke-width="1.3" />
<text x="401.9" y="410.36" font-size="10.2" text-anchor="end" fill="#333333" font-weight="normal" >0.6</text>
<line x1="407" y1="385.57" x2="409.5" y2="385.57" stroke="#2a2a2a" stroke-width="1.3" />
<line x1="405.2" y1="364.18" x2="409.5" y2="364.18" stroke="#2a2a2a" stroke-width="1.3" />
<text x="401.9" y="367.58" font-size="10.2" text-anchor="end" fill="#333333" font-weight="normal" >0.8</text>
<line x1="407" y1="342.79" x2="409.5" y2="342.79" stroke="#2a2a2a" stroke-width="1.3" />
<line x1="405.2" y1="321.4" x2="409.5" y2="321.4" stroke="#2a2a2a" stroke-width="1.3" />
<text x="401.9" y="324.8" font-size="10.2" text-anchor="end" fill="#333333" font-weight="normal" >1.0</text>
<line x1="409.5" y1="546.4" x2="409.5" y2="550.7" stroke="#2a2a2a" stroke-width="1.3" />
<text x="409.5" y="561.8" font-size="10.2" text-anchor="middle" fill="#333333" font-weight="normal" >0</text>
<line x1="433.85" y1="546.4" x2="433.85" y2="549" stroke="#2a2a2a" stroke-width="1.3" />
<line x1="458.2" y1="546.4" x2="458.2" y2="550.7" stroke="#2a2a2a" stroke-width="1.3" />
<text x="458.2" y="561.8" font-size="10.2" text-anchor="middle" fill="#333333" font-weight="normal" >5</text>
<line x1="482.55" y1="546.4" x2="482.55" y2="549" stroke="#2a2a2a" stroke-width="1.3" />
<line x1="506.9" y1="546.4" x2="506.9" y2="550.7" stroke="#2a2a2a" stroke-width="1.3" />
<text x="506.9" y="561.8" font-size="10.2" text-anchor="middle" fill="#333333" font-weight="normal" >10</text>
<line x1="531.25" y1="546.4" x2="531.25" y2="549" stroke="#2a2a2a" stroke-width="1.3" />
<line x1="555.6" y1="546.4" x2="555.6" y2="550.7" stroke="#2a2a2a" stroke-width="1.3" />
<text x="555.6" y="561.8" font-size="10.2" text-anchor="middle" fill="#333333" font-weight="normal" >15</text>
<line x1="579.95" y1="546.4" x2="579.95" y2="549" stroke="#2a2a2a" stroke-width="1.3" />
<line x1="604.3" y1="546.4" x2="604.3" y2="550.7" stroke="#2a2a2a" stroke-width="1.3" />
<text x="604.3" y="561.8" font-size="10.2" text-anchor="middle" fill="#333333" font-weight="normal" >20</text>
<line x1="628.65" y1="546.4" x2="628.65" y2="549" stroke="#2a2a2a" stroke-width="1.3" />
<line x1="653" y1="546.4" x2="653" y2="550.7" stroke="#2a2a2a" stroke-width="1.3" />
<text x="653" y="561.8" font-size="10.2" text-anchor="middle" fill="#333333" font-weight="normal" >25</text>
<line x1="677.35" y1="546.4" x2="677.35" y2="549" stroke="#2a2a2a" stroke-width="1.3" />
<line x1="701.7" y1="546.4" x2="701.7" y2="550.7" stroke="#2a2a2a" stroke-width="1.3" />
<text x="701.7" y="561.8" font-size="10.2" text-anchor="middle" fill="#333333" font-weight="normal" >30</text>
<rect x="552.4" y="383.2" width="64.5" height="17.6" fill="#ffffff" stroke="#b070e0" stroke-width="1.3"/>
<text x="584.65" y="396.3" font-size="12" text-anchor="middle" fill="#3c3c3c" font-weight="normal" >(3.47, 0.02)</text>
<rect x="552.4" y="414.5" width="64.5" height="17.6" fill="#ffffff" stroke="#2fa565" stroke-width="1.3"/>
<text x="584.65" y="427.6" font-size="12" text-anchor="middle" fill="#3c3c3c" font-weight="normal" >(6.66, 0.09)</text>
<rect x="552.4" y="449.2" width="64.5" height="17.6" fill="#ffffff" stroke="#ea4a44" stroke-width="1.3"/>
<text x="584.65" y="462.3" font-size="12" text-anchor="middle" fill="#3c3c3c" font-weight="normal" >(6.80, 0.09)</text>
<rect x="552.4" y="487.4" width="64.5" height="17.6" fill="#ffffff" stroke="#333333" stroke-width="1.3"/>
<text x="584.65" y="500.5" font-size="12" text-anchor="middle" fill="#3c3c3c" font-weight="normal" >(7.12, 0.11)</text>
<rect x="552.4" y="524.5" width="64.5" height="17.6" fill="#ffffff" stroke="#2f6fd6" stroke-width="1.3"/>
<text x="584.65" y="537.6" font-size="12" text-anchor="middle" fill="#3c3c3c" font-weight="normal" >(6.68, 0.09)</text>
<rect x="623.4" y="456.5" width="73.1" height="79.1" fill="#ffffff" stroke="#6a6a6a" stroke-width="1.1"/>
<line x1="625.1" y1="465.1" x2="653.9" y2="465.1" stroke="#5b8fe0" stroke-width="2.2" />
<text x="657.4" y="469.3" font-size="11.7" text-anchor="start" fill="#303030" font-weight="normal" textLength="37.4" lengthAdjust="spacingAndGlyphs">SFO0.5</text>
<line x1="625.1" y1="480.5" x2="653.9" y2="480.5" stroke="#1a1a1a" stroke-width="1.2" />
<text x="657.4" y="484.7" font-size="11.7" text-anchor="start" fill="#303030" font-weight="normal" textLength="26.5" lengthAdjust="spacingAndGlyphs">SFO1</text>
<line x1="625.1" y1="496.2" x2="653.9" y2="496.2" stroke="#ea4a44" stroke-width="1.3" />
<text x="657.4" y="500.4" font-size="11.7" text-anchor="start" fill="#303030" font-weight="normal" textLength="26.8" lengthAdjust="spacingAndGlyphs">SFO2</text>
<line x1="625.1" y1="511.6" x2="653.9" y2="511.6" stroke="#3aad6e" stroke-width="2.0" />
<text x="657.4" y="515.8" font-size="11.7" text-anchor="start" fill="#303030" font-weight="normal" textLength="34.3" lengthAdjust="spacingAndGlyphs">SFO10</text>
<line x1="625.1" y1="527.4" x2="653.9" y2="527.4" stroke="#a070e0" stroke-width="1.3" />
<text x="657.4" y="531.6" font-size="11.7" text-anchor="start" fill="#303030" font-weight="normal" textLength="31.6" lengthAdjust="spacingAndGlyphs">Myers</text>
<text x="366" y="315.2" font-size="20" text-anchor="start" fill="#000000" font-weight="bold" >d</text>
<text x="0" y="0" font-size="11.8" text-anchor="middle" fill="#2e2e2e" textLength="156.5" lengthAdjust="spacingAndGlyphs" transform="translate(376.2,425.8) rotate(-90)">Probability (AIS 2+ KTH Injury)</text>
<text x="555.6" y="578.7" font-size="11.8" text-anchor="middle" fill="#2e2e2e" textLength="165.4" lengthAdjust="spacingAndGlyphs">Peak Force applied to Knee [kN]</text>
</svg>
</body></html>
